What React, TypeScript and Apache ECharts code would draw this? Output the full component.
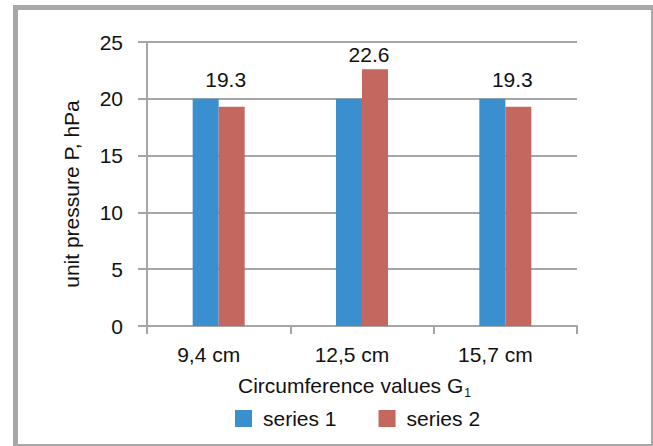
import React, { useEffect, useRef } from "react";
import * as echarts from "echarts";

const categories = ["9,4 cm", "12,5 cm", "15,7 cm"];
const series1 = [20, 20, 20];
const series2 = [19.3, 22.6, 19.3];
const seriesNames = ["series 1", "series 2"];
const yTicks = { min: 0, max: 25, interval: 5 };

// label placement tweaks (style only)
const labelOffsetsY = [-13, 0, -13];

const FONT = "'Liberation Sans', Arial, sans-serif";
const FS = 21;
const GRID = "#A6A6A6";
const TXT = "#111111";

export default function App() {
  const ref = useRef<HTMLDivElement>(null);
  useEffect(() => {
    if (!ref.current) return;
    const chart = echarts.init(ref.current, undefined, { renderer: "svg" });
    chart.setOption({
      animation: false,
      backgroundColor: "#ffffff",
      textStyle: { fontFamily: FONT },
      grid: { left: 147, right: 76, top: 42, bottom: 120, containLabel: false },
      legend: {
        data: seriesNames,
        left: 230,
        top: 403,
        icon: "rect",
        itemWidth: 17,
        itemHeight: 17,
        itemGap: 42,
        textStyle: { fontSize: FS, color: TXT, fontFamily: FONT, padding: [0, 0, 0, 6] },
      },
      xAxis: {
        type: "category",
        data: categories,
        axisLine: { show: true, lineStyle: { color: GRID, width: 2 } },
        axisTick: { show: true, length: 8, interval: 0, lineStyle: { color: GRID, width: 2 } },
        axisLabel: { fontSize: FS, color: TXT, margin: 18, padding: [0, 20, 0, 0], fontFamily: FONT },
        splitLine: { show: false },
      },
      yAxis: {
        type: "value",
        min: yTicks.min,
        max: yTicks.max,
        interval: yTicks.interval,
        axisLine: { show: true, lineStyle: { color: GRID, width: 2 } },
        axisTick: { show: true, length: 9, lineStyle: { color: GRID, width: 2 } },
        axisLabel: { fontSize: FS, color: TXT, margin: 24, fontFamily: FONT },
        splitLine: { show: true, lineStyle: { color: GRID, width: 2 } },
      },
      graphic: [
        {
          type: "text",
          x: 71,
          y: 194,
          rotation: Math.PI / 2,
          style: {
            text: "unit pressure P, hPa",
            fontSize: FS,
            fontFamily: FONT,
            fill: TXT,
            align: "center",
            verticalAlign: "middle",
          },
        },
        {
          type: "text",
          x: 238,
          y: 372,
          style: {
            text: "{a|Circumference values G}{b|1}",
            fontFamily: FONT,
            fill: TXT,
            rich: {
              a: { fontSize: FS, fontFamily: FONT, fill: TXT, lineHeight: 24, verticalAlign: "bottom" },
              b: { fontSize: 12, fontFamily: FONT, fill: TXT, lineHeight: 12, verticalAlign: "bottom", padding: [0, 0, -3, 1] },
            },
          },
        },
      ],
      series: [
        {
          name: seriesNames[0],
          type: "bar",
          data: series1,
          barWidth: 26,
          barGap: "0%",
          itemStyle: { color: "#3A8FCE" },
        },
        {
          name: seriesNames[1],
          type: "bar",
          data: series2.map((v, i) => ({
            value: v,
            label: { offset: [-6, labelOffsetsY[i]] },
          })),
          barWidth: 26,
          itemStyle: { color: "#C4675F" },
          label: {
            show: true,
            position: "top",
            distance: 4,
            fontSize: FS,
            color: TXT,
            fontFamily: FONT,
          },
        },
      ],
    });
    return () => chart.dispose();
  }, []);
  return (
    <div style={{ position: "fixed", left: 0, top: 0, width: 653, height: 446, background: "#fff" }}>
      <div ref={ref} style={{ position: "absolute", left: 0, top: 0, width: 653, height: 446 }} />
      <div
        style={{
          position: "absolute",
          left: 13,
          top: 5,
          width: 640,
          height: 441,
          boxSizing: "border-box",
          borderLeft: "5px solid #A8A8A8",
          borderTop: "5px solid #A8A8A8",
          borderRight: "2px solid #A8A8A8",
          borderBottom: "2px solid #A8A8A8",
          pointerEvents: "none",
        }}
      />
    </div>
  );
}
